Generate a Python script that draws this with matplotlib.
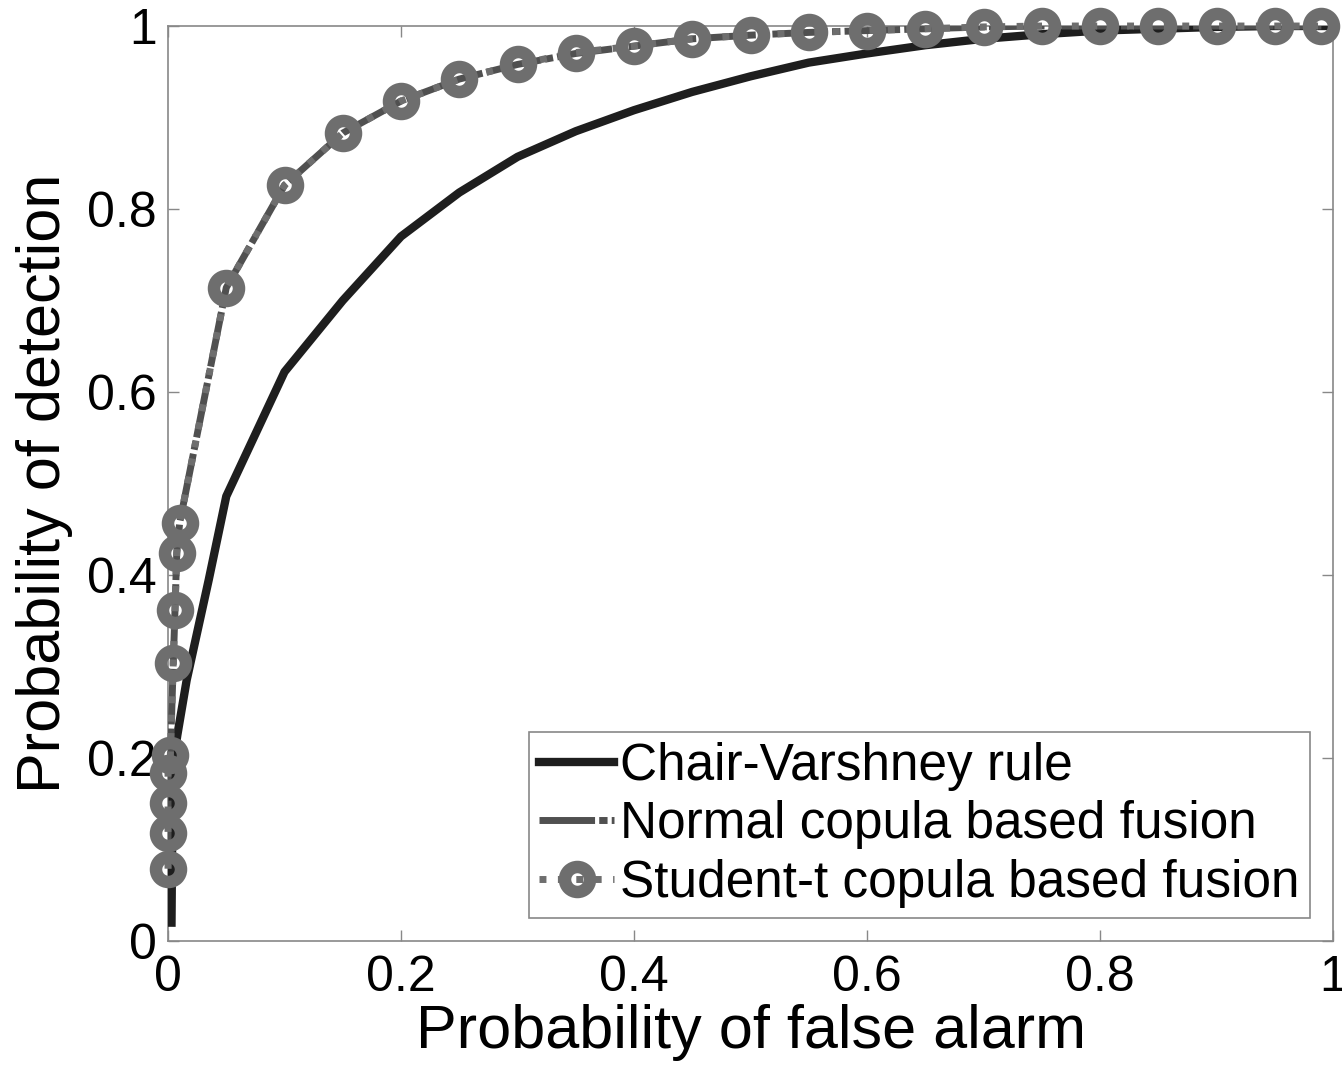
"""
ROC curves: Chair-Varshney rule vs copula based fusion.
"""
import matplotlib
matplotlib.use("Agg")
import matplotlib.pyplot as plt

plt.rcParams["font.family"] = ["Liberation Sans", "DejaVu Sans"]

# ── Chair-Varshney rule ─────────────────────────────────────────────
CV_PFA = [0.003, 0.004, 0.008, 0.016, 0.035, 0.05, 0.10, 0.15, 0.20, 0.25,
          0.30, 0.35, 0.40, 0.45, 0.50, 0.55, 0.60, 0.65, 0.70, 0.75,
          0.80, 0.85, 0.90, 0.95, 1.00]
CV_PD = [0.02, 0.19, 0.225, 0.285, 0.395, 0.486, 0.622, 0.700, 0.770, 0.818,
         0.857, 0.885, 0.908, 0.928, 0.945, 0.960, 0.970, 0.979, 0.986, 0.991,
         0.995, 0.997, 0.999, 1.000, 1.000]

# ── Normal copula based fusion ──────────────────────────────────────
NC_PFA = [0.0, 0.0, 0.0, 0.0, 0.002, 0.0045, 0.006, 0.0075, 0.010,
          0.05, 0.10, 0.15, 0.20, 0.25, 0.30, 0.35, 0.40, 0.45, 0.50,
          0.55, 0.60, 0.65, 0.70, 0.75, 0.80, 0.85, 0.90, 0.95, 0.99]
NC_PD = [0.079, 0.118, 0.151, 0.184, 0.203, 0.304, 0.362, 0.424, 0.457,
         0.714, 0.826, 0.883, 0.918, 0.942, 0.958, 0.970, 0.978, 0.986, 0.990,
         0.993, 0.995, 0.997, 0.999, 1.000, 1.000, 1.000, 1.000, 1.000, 1.000]

# ── Student-t copula based fusion ───────────────────────────────────
ST_PFA = [0.0, 0.0, 0.0, 0.0, 0.002, 0.0045, 0.006, 0.0075, 0.010,
          0.05, 0.10, 0.15, 0.20, 0.25, 0.30, 0.35, 0.40, 0.45, 0.50,
          0.55, 0.60, 0.65, 0.70, 0.75, 0.80, 0.85, 0.90, 0.95, 0.99]
ST_PD = [0.079, 0.118, 0.151, 0.184, 0.203, 0.304, 0.362, 0.424, 0.457,
         0.714, 0.826, 0.883, 0.918, 0.942, 0.958, 0.971, 0.978, 0.986, 0.990,
         0.993, 0.995, 0.997, 0.999, 1.000, 1.000, 1.000, 1.000, 1.000, 1.000]

TICKS = [0, 0.2, 0.4, 0.6, 0.8, 1]
TICK_LABELS = ["0", "0.2", "0.4", "0.6", "0.8", "1"]


def main():
    fig = plt.figure(figsize=(13.42, 10.66), dpi=100)
    ax = fig.add_axes([0.1252, 0.1173, 0.8681, 0.8583])

    ax.plot(CV_PFA, CV_PD, color="#1e1e1e", lw=6, solid_joinstyle="round",
            label="Chair-Varshney rule", zorder=3)
    ax.plot(NC_PFA, NC_PD, color="#505050", lw=5,
            linestyle=(0, (8, 0.6, 1.2, 0.6)),
            label="Normal copula based fusion", zorder=4)
    ax.plot(ST_PFA, ST_PD, color="#6e6e6e", lw=5, linestyle=":",
            marker="o", ms=18, mew=9, mfc="none", mec="#6e6e6e",
            label="Student-t copula based fusion", zorder=5, clip_on=False)

    ax.set_xlim(0, 1)
    ax.set_ylim(0, 1)
    ax.set_xticks(TICKS)
    ax.set_xticklabels(TICK_LABELS)
    ax.set_yticks(TICKS)
    ax.set_yticklabels(TICK_LABELS)
    ax.tick_params(direction="in", length=8, width=1, color="#888888",
                   labelsize=36, top=True, right=True)
    ax.tick_params(axis="x", pad=10)
    ax.tick_params(axis="y", pad=8)
    for spine in ax.spines.values():
        spine.set_color("#888888")
        spine.set_linewidth(1.2)

    ax.set_xlabel("Probability of false alarm", fontsize=44, labelpad=2)
    ax.set_ylabel("Probability of detection", fontsize=44, labelpad=10)

    leg = ax.legend(loc="lower right", fontsize=37, frameon=True,
                    fancybox=False, edgecolor="#888888", framealpha=1,
                    handlelength=1.45, handletextpad=0.12, labelspacing=0.18,
                    borderpad=0.2, borderaxespad=0.45)
    leg.get_frame().set_linewidth(1.2)

    fig.savefig("out.png", dpi=100)


if __name__ == "__main__":
    main()
